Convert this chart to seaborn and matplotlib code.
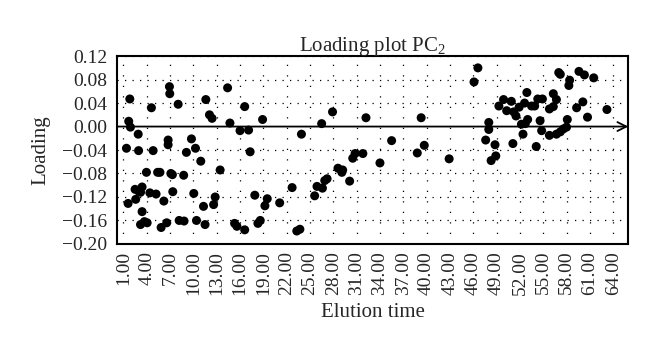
import numpy as np
import pandas as pd
import matplotlib
matplotlib.use("Agg")
import matplotlib.pyplot as plt
import seaborn as sns
from matplotlib.ticker import FuncFormatter

elution_time = [
    1.39, 1.6, 1.68, 1.82, 1.9, 2.58, 2.5, 2.9, 2.95, 2.95, 3.2, 3.4, 3.2, 3.4, 3.7,
    3.96, 4.05, 4.4, 4.6, 4.82, 5.2, 5.4, 5.7, 5.85, 6.2, 6.57, 6.75, 6.75, 6.92, 6.96,
    7.1, 7.3, 7.35, 8.04, 8.17, 8.75, 8.8, 9.1, 9.75, 10.05, 10.27, 10.4, 10.95, 11.3,
    11.5, 11.6, 12.07, 12.4, 12.6, 12.8, 13.44, 14.4, 14.7, 15.3, 15.6, 16.0, 16.6, 16.6,
    17.1, 17.3, 17.9, 18.3, 18.6, 18.9, 19.2, 19.5, 21.1, 22.7, 23.3, 23.7, 23.9, 25.6,
    25.9, 26.5, 26.6, 26.9, 27.2, 27.9, 28.6, 29.1, 29.2, 30.1, 30.5, 30.8, 31.8, 32.2,
    34.0, 35.5, 38.8, 39.3, 39.7, 42.9, 46.1, 46.6, 47.6, 48.0, 48.0, 48.3, 48.8, 48.9,
    49.3, 49.9, 50.3, 50.9, 51.1, 51.2, 51.5, 51.9, 52.2, 52.4, 52.7, 52.6, 52.9, 53.0,
    53.5, 53.9, 54.1, 54.3, 54.9, 54.6, 54.8, 55.8, 55.8, 56.3, 56.3, 56.7, 56.7, 57.0,
    57.2, 57.2, 57.6, 58.0, 58.1, 58.3, 58.4, 59.3, 60.1, 59.6, 60.3, 60.7, 61.5, 63.2,
]
loading = [
    -0.037, -0.131, 0.009, 0.047, -0.001, -0.124, -0.107, -0.013, -0.041, -0.110, -0.112,
    -0.103, -0.167, -0.145, -0.162, -0.078, -0.164, -0.113, 0.032, -0.041, -0.115, -0.078,
    -0.078, -0.172, -0.127, -0.164, -0.023, -0.031, 0.068, 0.056, -0.080, -0.082, -0.111,
    0.038, -0.160, -0.083, -0.161, -0.044, -0.021, -0.114, -0.037, -0.160, -0.059, -0.136,
    -0.167, 0.046, 0.020, 0.014, -0.133, -0.120, -0.074, 0.066, 0.006, -0.165, -0.170,
    -0.007, 0.034, -0.176, -0.006, -0.043, -0.117, -0.165, -0.160, 0.012, -0.135, -0.123,
    -0.130, -0.104, -0.178, -0.175, -0.013, -0.118, -0.102, 0.005, -0.105, -0.092, -0.089,
    0.025, -0.071, -0.078, -0.074, -0.093, -0.054, -0.046, -0.046, 0.015, -0.062, -0.024,
    -0.045, 0.015, -0.032, -0.055, 0.076, 0.100, -0.023, 0.007, -0.005, -0.058, -0.031,
    -0.050, 0.035, 0.046, 0.027, 0.043, -0.029, 0.025, 0.018, 0.033, 0.004, -0.013, 0.005,
    0.040, 0.058, 0.012, 0.035, 0.035, -0.034, 0.047, 0.047, 0.010, -0.007, -0.015, 0.030,
    0.034, 0.056, 0.046, -0.013, 0.092, 0.089, -0.009, -0.004, -0.001, 0.012, 0.070, 0.079,
    0.032, 0.042, 0.094, 0.088, 0.016, 0.083, 0.029,
]
x_ticks = [1, 4, 7, 10, 13, 16, 19, 22, 25, 28, 31, 34, 37, 40, 43, 46, 49, 52, 55, 58, 61, 64]
y_ticks = [-0.20, -0.16, -0.12, -0.08, -0.04, 0.00, 0.04, 0.08, 0.12]
title = "Loading plot PC$_\\mathrm{2}$"
x_label = "Elution time"
y_label = "Loading"

df = pd.DataFrame({"Elution time": elution_time, "Loading": loading})

sns.set_style("white")
plt.rcParams["font.family"] = ["Liberation Serif", "DejaVu Serif"]
plt.rcParams["mathtext.fontset"] = "custom"
plt.rcParams["mathtext.rm"] = "Liberation Serif"
plt.rcParams["axes.unicode_minus"] = True

fig = plt.figure(figsize=(6.6, 3.53), dpi=100)
ax = fig.add_axes([0.177, 0.309, 0.775, 0.532])

# grid
for xt in x_ticks:
    ax.axvline(xt, color="black", lw=0.9, linestyle=(0, (1.0, 7.4)), zorder=0)
for yt in y_ticks:
    if abs(yt) > 1e-9:
        ax.axhline(yt, color="black", lw=0.9, linestyle=(0, (1.0, 5.0)), zorder=0)

sns.scatterplot(data=df, x="Elution time", y="Loading", ax=ax, color="black",
                s=42, edgecolor="none", linewidth=0, zorder=3, legend=False)

ax.set_xlim(0.15, 65.95)
ax.set_ylim(-0.20, 0.12)

# zero line with arrow
ax.annotate("", xy=(1.0, 0.0), xytext=(0.0, 0.0),
            xycoords=("axes fraction", "data"), textcoords=("axes fraction", "data"),
            arrowprops=dict(arrowstyle="->", lw=1.3, color="black",
                            shrinkA=0, shrinkB=0, mutation_scale=16),
            zorder=2)

ax.set_xticks(x_ticks)
ax.set_xticklabels([f"{v:.2f}" for v in x_ticks], rotation=90, fontsize=14)
ax.set_yticks(y_ticks)
ax.yaxis.set_major_formatter(FuncFormatter(lambda v, p: f"{v:.2f}".replace("-", "\u2212") if abs(v) > 1e-9 else "0.00"))
ax.tick_params(axis="both", direction="in", length=3, width=0.8, labelsize=14)
ax.tick_params(axis="y", pad=7)
ax.tick_params(axis="x", pad=5)

for sp in ax.spines.values():
    sp.set_color("black")
    sp.set_linewidth(1.5)
    sp.set_visible(True)

ax.set_title(title, fontsize=15, pad=4)
ax.set_xlabel(x_label, fontsize=15, labelpad=6)
ax.set_ylabel(y_label, fontsize=15, labelpad=8)

fig.savefig("out.png", dpi=100)
